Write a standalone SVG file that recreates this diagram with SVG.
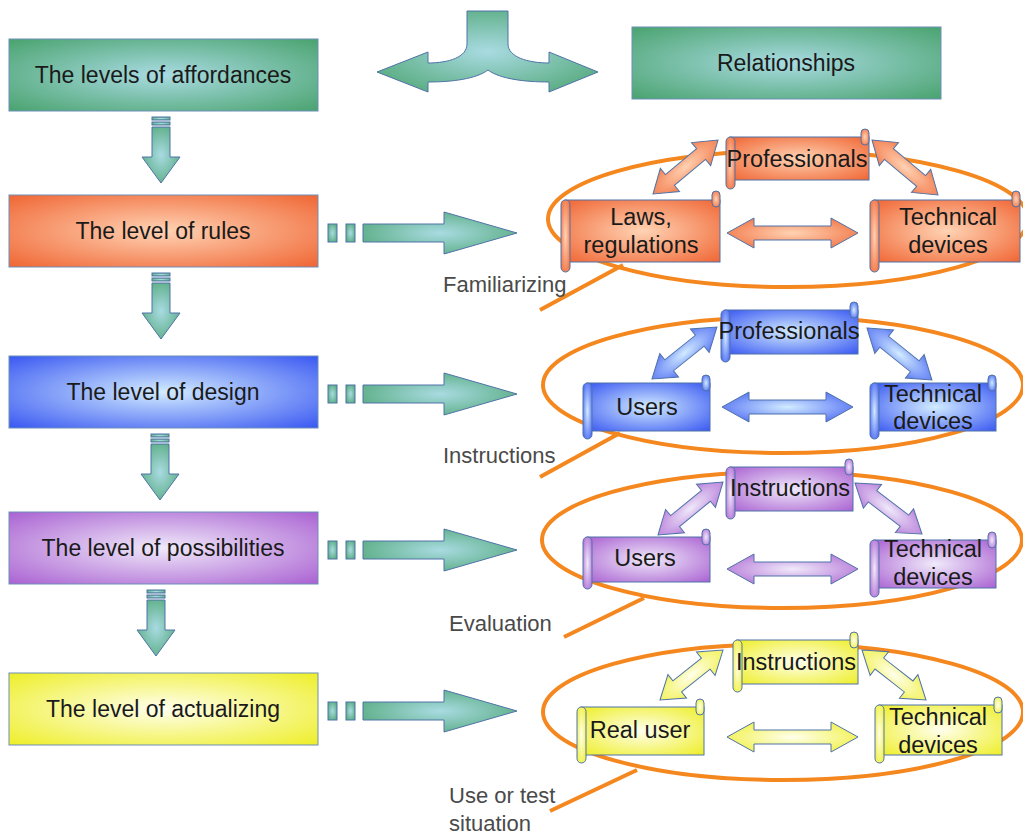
<svg xmlns="http://www.w3.org/2000/svg" width="1023" height="835" viewBox="0 0 1023 835">
  <defs>
    <radialGradient id="gGreen" cx="0.5" cy="0.5" r="0.7">
      <stop offset="0" stop-color="#a9dbe2"/>
      <stop offset="1" stop-color="#4aa36f"/>
    </radialGradient>
    <radialGradient id="gOrange" cx="0.5" cy="0.5" r="0.7">
      <stop offset="0" stop-color="#ffd3b4"/>
      <stop offset="1" stop-color="#f06634"/>
    </radialGradient>
    <radialGradient id="gBlue" cx="0.5" cy="0.5" r="0.7">
      <stop offset="0" stop-color="#d2ecff"/>
      <stop offset="1" stop-color="#3a58f2"/>
    </radialGradient>
    <radialGradient id="gPurple" cx="0.5" cy="0.5" r="0.7">
      <stop offset="0" stop-color="#f0eafa"/>
      <stop offset="1" stop-color="#aa62d2"/>
    </radialGradient>
    <radialGradient id="gYellow" cx="0.5" cy="0.5" r="0.7">
      <stop offset="0" stop-color="#ffffee"/>
      <stop offset="1" stop-color="#eeee28"/>
    </radialGradient>
    <!-- double-headed arrows, drawn along +x and placed by transform -->
    <path id="dblH" d="M0,0 L27,-15 L27,-7 L104,-7 L104,-15 L131,0 L104,15 L104,7 L27,7 L27,15 Z"/>
  </defs>
  <style>
    .box { stroke: #6d8fb8; stroke-width: 1; }
    .lbl { font-family: "Liberation Sans", Arial, sans-serif; font-size: 23px; fill: #1a1a1a; text-anchor: middle; }
    .st { font-family: "Liberation Sans", Arial, sans-serif; font-size: 23.5px; fill: #1a1a1a; text-anchor: middle; }
    .note { font-family: "Liberation Sans", Arial, sans-serif; font-size: 22px; fill: #4a4a4a; }
    .ring { fill: none; stroke: #f5871f; stroke-width: 4; }
    .tick { stroke: #f5871f; stroke-width: 4; fill: none; }
    .sc { stroke: #4f73a8; stroke-width: 1; }
    .arr { stroke: #4f73a8; stroke-width: 1; }
    .garr { fill: url(#gGreen); stroke: #4f73a8; stroke-width: 1; }
  </style>

  <!-- top split arrow -->
  <g id="split-arrow">
    <path class="garr" d="M467,11 L508,11 L508,44 C508,57 528,63 549,63 L549,52 L598,72 L549,92 L549,82 C525,82 500,79 488,70 C476,79 452,82 428,82 L428,92 L377,72 L428,52 L428,63 C449,63 467,57 467,44 Z"/>
  </g>

  <!-- left column: levels -->
  <g id="levels-of-affordances">
    <rect class="box" x="9" y="39" width="309" height="72" fill="url(#gGreen)"/>
    <text class="lbl" x="163" y="83">The levels of affordances</text>
  </g>
  <g id="level-rules">
    <rect class="box" x="9" y="195" width="309" height="72" fill="url(#gOrange)"/>
    <text class="lbl" x="163" y="239">The level of rules</text>
  </g>
  <g id="level-design">
    <rect class="box" x="9" y="356" width="309" height="72" fill="url(#gBlue)"/>
    <text class="lbl" x="163" y="400">The level of design</text>
  </g>
  <g id="level-possibilities">
    <rect class="box" x="9" y="512" width="309" height="72" fill="url(#gPurple)"/>
    <text class="lbl" x="163" y="556">The level of possibilities</text>
  </g>
  <g id="level-actualizing">
    <rect class="box" x="9" y="673" width="309" height="72" fill="url(#gYellow)"/>
    <text class="lbl" x="163" y="717">The level of actualizing</text>
  </g>
  <g id="relationships">
    <rect class="box" x="632" y="27" width="309" height="72" fill="url(#gGreen)"/>
    <text class="lbl" x="786" y="71">Relationships</text>
  </g>

  <!-- connectors between the columns -->
  <g id="connectors">
    <!-- downward arrows -->
    <g class="garr">
      <rect x="152" y="117" width="18" height="3"/><rect x="152" y="122" width="18" height="3"/>
      <path d="M152,127 L170,127 L170,157 L180,157 L161,183 L142,157 L152,157 Z"/>
      <rect x="152" y="273" width="18" height="3"/><rect x="152" y="278" width="18" height="3"/>
      <path d="M152,283 L170,283 L170,313 L180,313 L161,339 L142,313 L152,313 Z"/>
      <rect x="151" y="434" width="18" height="3"/><rect x="151" y="439" width="18" height="3"/>
      <path d="M151,444 L169,444 L169,474 L179,474 L160,500 L141,474 L151,474 Z"/>
      <rect x="147" y="590" width="18" height="3"/><rect x="147" y="595" width="18" height="3"/>
      <path d="M147,600 L165,600 L165,630 L175,630 L156,656 L137,630 L147,630 Z"/>
    </g>
    <!-- rightward arrows -->
    <g class="garr">
      <rect x="328" y="224" width="9" height="18"/><rect x="346" y="224" width="9" height="18"/>
      <path d="M363,224 L444,224 L444,212 L517,233 L444,254 L444,242 L363,242 Z"/>
      <rect x="328" y="385" width="9" height="18"/><rect x="346" y="385" width="9" height="18"/>
      <path d="M363,385 L444,385 L444,373 L517,394 L444,415 L444,403 L363,403 Z"/>
      <rect x="328" y="541" width="9" height="18"/><rect x="346" y="541" width="9" height="18"/>
      <path d="M363,541 L444,541 L444,529 L517,550 L444,571 L444,559 L363,559 Z"/>
      <rect x="328" y="702" width="9" height="18"/><rect x="346" y="702" width="9" height="18"/>
      <path d="M363,702 L444,702 L444,690 L517,711 L444,732 L444,720 L363,720 Z"/>
    </g>

    <!-- orange rings and their leader lines -->
    <ellipse class="ring" cx="788" cy="219" rx="240" ry="68"/>
    <ellipse class="ring" cx="783" cy="385" rx="240" ry="68"/>
    <ellipse class="ring" cx="782" cy="540" rx="240" ry="68"/>
    <ellipse class="ring" cx="783" cy="712" rx="240" ry="68"/>
    <line class="tick" x1="540" y1="310" x2="623" y2="265"/>
    <line class="tick" x1="540" y1="477" x2="620" y2="433"/>
    <line class="tick" x1="564" y1="637" x2="644" y2="598"/>
    <line class="tick" x1="550" y1="811" x2="637" y2="770"/>

    <!-- double arrows inside the rings -->
    <g class="arr" fill="url(#gOrange)">
      <use href="#dblH" x="727" y="233"/>
      <path d="M0,0 L22,-15 L22,-7 L62.5,-7 L62.5,-15 L84.5,0 L62.5,15 L62.5,7 L22,7 L22,15 Z" transform="translate(653,194) rotate(-39.7)"/>
      <path d="M0,0 L22,-15 L22,-7 L63.9,-7 L63.9,-15 L85.9,0 L63.9,15 L63.9,7 L22,7 L22,15 Z" transform="translate(872,140) rotate(39.8)"/>
    </g>
    <g class="arr" fill="url(#gBlue)">
      <use href="#dblH" x="722" y="407"/>
      <path d="M0,0 L22,-15 L22,-7 L61.2,-7 L61.2,-15 L83.2,0 L61.2,15 L61.2,7 L22,7 L22,15 Z" transform="translate(652,379) rotate(-38.7)"/>
      <path d="M0,0 L22,-15 L22,-7 L61.2,-7 L61.2,-15 L83.2,0 L61.2,15 L61.2,7 L22,7 L22,15 Z" transform="translate(867,328) rotate(38.7)"/>
    </g>
    <g class="arr" fill="url(#gPurple)">
      <use href="#dblH" x="727" y="569"/>
      <path d="M0,0 L22,-15 L22,-7 L61.9,-7 L61.9,-15 L83.9,0 L61.9,15 L61.9,7 L22,7 L22,15 Z" transform="translate(658,535) rotate(-39.2)"/>
      <path d="M0,0 L22,-15 L22,-7 L62.2,-7 L62.2,-15 L84.2,0 L62.2,15 L62.2,7 L22,7 L22,15 Z" transform="translate(855,483) rotate(37.3)"/>
    </g>
    <g class="arr" fill="url(#gYellow)">
      <use href="#dblH" x="727" y="737"/>
      <path d="M0,0 L22,-15 L22,-7 L58.4,-7 L58.4,-15 L80.4,0 L58.4,15 L58.4,7 L22,7 L22,15 Z" transform="translate(660,700) rotate(-38.4)"/>
      <path d="M0,0 L22,-15 L22,-7 L59.2,-7 L59.2,-15 L81.2,0 L59.2,15 L59.2,7 L22,7 L22,15 Z" transform="translate(862,650) rotate(38)"/>
    </g>
  </g>

  <!-- ring captions -->
  <g id="captions">
    <text class="note" x="443" y="292">Familiarizing</text>
    <text class="note" x="443" y="463">Instructions</text>
    <text class="note" x="449" y="631">Evaluation</text>
    <text class="note" x="449" y="803">Use or test</text>
    <text class="note" x="449" y="831">situation</text>
  </g>

  <!-- scrolls: body, left roll hanging below, curl at top right -->
  <g id="r1-professionals" class="sc" fill="url(#gOrange)">
    <rect x="730" y="137" width="139" height="43"/>
    <rect x="726" y="137" width="9" height="52" rx="4.5"/>
    <rect x="861" y="129" width="8" height="16" rx="4"/>
    <text class="st" x="797" y="167" stroke="none">Professionals</text>
  </g>
  <g id="r1-laws" class="sc" fill="url(#gOrange)">
    <rect x="565" y="200" width="155" height="62"/>
    <rect x="561" y="200" width="9" height="72" rx="4.5"/>
    <rect x="712" y="191" width="8" height="16" rx="4"/>
    <text class="st" x="641" y="225" stroke="none">Laws,</text>
    <text class="st" x="641" y="253" stroke="none">regulations</text>
  </g>
  <g id="r1-technical" class="sc" fill="url(#gOrange)">
    <rect x="874" y="200" width="146" height="62"/>
    <rect x="870" y="200" width="9" height="72" rx="4.5"/>
    <rect x="1012" y="191" width="8" height="16" rx="4"/>
    <text class="st" x="948" y="225" stroke="none">Technical</text>
    <text class="st" x="948" y="253" stroke="none">devices</text>
  </g>

  <g id="r2-professionals" class="sc" fill="url(#gBlue)">
    <rect x="725" y="310" width="133" height="44"/>
    <rect x="721" y="310" width="9" height="52" rx="4.5"/>
    <rect x="850" y="302" width="8" height="16" rx="4"/>
    <text class="st" x="789" y="339" stroke="none">Professionals</text>
  </g>
  <g id="r2-users" class="sc" fill="url(#gBlue)">
    <rect x="587" y="383" width="123" height="48"/>
    <rect x="583" y="383" width="9" height="56" rx="4.5"/>
    <rect x="702" y="375" width="8" height="16" rx="4"/>
    <text class="st" x="647" y="415" stroke="none">Users</text>
  </g>
  <g id="r2-technical" class="sc" fill="url(#gBlue)">
    <rect x="874" y="383" width="122" height="48"/>
    <rect x="870" y="383" width="9" height="56" rx="4.5"/>
    <rect x="988" y="375" width="8" height="16" rx="4"/>
    <text class="st" x="933" y="402" stroke="none">Technical</text>
    <text class="st" x="933" y="429" stroke="none">devices</text>
  </g>

  <g id="r3-instructions" class="sc" fill="url(#gPurple)">
    <rect x="730" y="467" width="123" height="44"/>
    <rect x="726" y="467" width="9" height="52" rx="4.5"/>
    <rect x="845" y="459" width="8" height="16" rx="4"/>
    <text class="st" x="790" y="496" stroke="none">Instructions</text>
  </g>
  <g id="r3-users" class="sc" fill="url(#gPurple)">
    <rect x="587" y="537" width="123" height="45"/>
    <rect x="583" y="537" width="9" height="52" rx="4.5"/>
    <rect x="702" y="529" width="8" height="16" rx="4"/>
    <text class="st" x="645" y="566" stroke="none">Users</text>
  </g>
  <g id="r3-technical" class="sc" fill="url(#gPurple)">
    <rect x="874" y="540" width="122" height="48"/>
    <rect x="870" y="540" width="9" height="57" rx="4.5"/>
    <rect x="988" y="532" width="8" height="16" rx="4"/>
    <text class="st" x="933" y="557" stroke="none">Technical</text>
    <text class="st" x="933" y="585" stroke="none">devices</text>
  </g>

  <g id="r4-instructions" class="sc" fill="url(#gYellow)">
    <rect x="737" y="640" width="121" height="44"/>
    <rect x="733" y="640" width="9" height="52" rx="4.5"/>
    <rect x="850" y="632" width="8" height="16" rx="4"/>
    <text class="st" x="796" y="670" stroke="none">Instructions</text>
  </g>
  <g id="r4-real-user" class="sc" fill="url(#gYellow)">
    <rect x="581" y="707" width="123" height="48"/>
    <rect x="577" y="707" width="9" height="56" rx="4.5"/>
    <rect x="696" y="699" width="8" height="16" rx="4"/>
    <text class="st" x="640" y="738" stroke="none">Real user</text>
  </g>
  <g id="r4-technical" class="sc" fill="url(#gYellow)">
    <rect x="879" y="705" width="123" height="50"/>
    <rect x="875" y="705" width="9" height="58" rx="4.5"/>
    <rect x="994" y="697" width="8" height="16" rx="4"/>
    <text class="st" x="938" y="725" stroke="none">Technical</text>
    <text class="st" x="938" y="753" stroke="none">devices</text>
  </g>
</svg>
